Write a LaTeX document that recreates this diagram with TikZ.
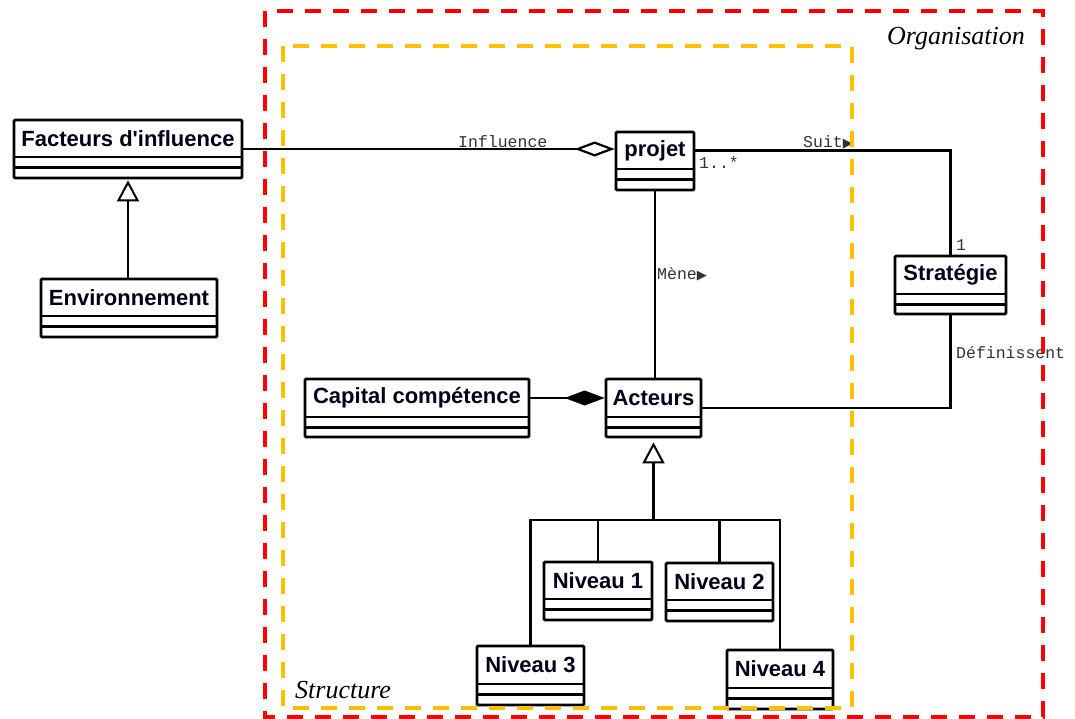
\documentclass[tikz,border=0pt]{standalone}
\usepackage{fontspec}
\setmainfont{Liberation Serif}
\newfontfamily\boxfont{Liberation Sans}
\newfontfamily\monofont{Liberation Mono}
\newfontfamily\symfont{DejaVu Sans}
\usetikzlibrary{arrows.meta,calc}
\definecolor{orgred}{RGB}{255,0,0}
\definecolor{structorange}{RGB}{255,192,0}
\definecolor{lblgray}{RGB}{50,50,50}
\tikzset{
  classframe/.style={draw=black, line width=2.8pt, rectangle, rounded corners=1.2pt, inner sep=0pt, fill=white},
  classtitle/.style={font=\boxfont\bfseries\fontsize{22}{22}\selectfont, text=black!90!blue, inner sep=0pt},
  classline/.style={line width=2.6pt},
  conn/.style={line width=2.6pt},
  gen/.style={line width=2.6pt, -{Triangle[open, length=21pt, width=22pt, line width=2pt]}},
  aggr/.style={line width=2.6pt, -{Diamond[open, length=40pt, width=15pt, line width=2.2pt]}},
  compo/.style={line width=2.6pt, -{Diamond[length=40pt, width=15pt]}},
  rolelbl/.style={font=\monofont\fontsize{16.5}{16.5}\selectfont, text=lblgray, inner sep=0pt},
  zonelbl/.style={font=\itshape\fontsize{26}{26}\selectfont, inner sep=0pt},
  orgframe/.style={draw=orgred, line width=4pt, dash pattern=on 16pt off 12pt},
  structframe/.style={draw=structorange, line width=4pt, dash pattern=on 16pt off 12pt},
}
\newcommand\dirtri{{\symfont\fontsize{13}{13}\selectfont ▶}}
% #1 name, #2 x1, #3 y1, #4 x2, #5 y2, #6 separator y, #7 text
\newcommand\classbox[7]{%
  \node[classframe, minimum width={#4pt-#2pt}, minimum height={#5pt-#3pt}] (#1) at ({(#2+#4)/2},{(#3+#5)/2}) {};
  \node[classtitle] (#1-t) at ({(#2+#4)/2},{(#3+#6)/2}) {#7};
  \draw[classline] (#2,#6) -- (#4,#6);
  \draw[classline] (#2,{#6+10.5}) -- (#4,{#6+10.5});
}
\begin{document}
\begin{tikzpicture}[x=1pt,y=-1pt]
\useasboundingbox (0,0) rectangle (1075,719);

% classes
\classbox{fac}{14}{120}{242}{178}{157}{Facteurs d'influence}
\classbox{env}{41}{279}{217}{337}{316}{Environnement}
\classbox{proj}{616}{132}{694}{190}{169}{projet}
\classbox{strat}{895}{256}{1006}{314}{294}{Stratégie}
\classbox{cap}{305}{379}{529}{437}{417}{Capital compétence}
\classbox{act}{606}{379}{701}{437}{417}{Acteurs}
\classbox{n1}{544}{562}{652}{620}{599}{Niveau 1}
\classbox{n2}{666}{563}{773}{621}{600}{Niveau 2}
\classbox{n3}{477}{646}{584}{705}{684}{Niveau 3}
\classbox{n4}{727}{650}{833}{709}{688}{Niveau 4}

% generalisation Environnement -> Facteurs
\draw[gen, shorten >=1pt] (fac.south |- env.north) -- (fac.south);

% aggregation Influence
\draw[aggr] (fac.east) -- (proj.west |- fac.east);
\node[rolelbl, anchor=west] (linf) at (458,142) {Influence};

% Suit
\draw[conn] (proj-t.east -| proj.east) -| (strat.north);
\node[rolelbl, anchor=west] (lsuit) at (803,142) {Suit\dirtri};
\node[rolelbl, anchor=west] (lmult) at (699,163) {1..*};
\node[rolelbl, anchor=west] (lone) at (956,245) {1};

% Mene
\draw[conn] (proj.south) -- (proj.south |- act.north);
\node[rolelbl, anchor=west] (lmene) at (657,274) {Mène\dirtri};

% Definissent
\draw[conn] (strat.south) |- (act.east);
\node[rolelbl, anchor=west] (ldef) at (956,353) {Définissent};

% composition Capital -> Acteurs
\draw[compo] (cap.east |- cap-t.center) -- (act.west |- cap-t.center);

% generalisation Niveaux -> Acteurs
\coordinate (bus) at (653.5,520);
\draw[gen, shorten >=4pt] (act.south |- bus) -- (act.south);
\draw[conn] (n3.north) -- (n3.north |- bus) -- (n4.north |- bus) -- (n4.north);
\draw[conn] (n1.north) -- (n1.north |- bus);
\draw[conn] (n2.north) -- (n2.north |- bus);

% zones
\draw[orgframe] (265,11) rectangle (1043,717);
\draw[structframe] (283,46) rectangle (852,708);
\node[zonelbl, anchor=base west] (lorg) at (887,45) {Organisation};
\node[zonelbl, anchor=base west] (lstruct) at (295,698) {Structure};
\end{tikzpicture}
\end{document}
